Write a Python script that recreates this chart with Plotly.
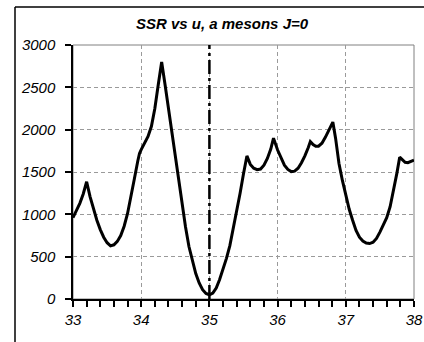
import plotly.graph_objects as go

# SSR scan over u for a mesons, J=0
u = [33.0, 33.05, 33.1, 33.15, 33.2,
     33.25, 33.3, 33.35, 33.4, 33.45, 33.5, 33.55, 33.6, 33.65, 33.7, 33.75,
     33.8, 33.85, 33.9, 33.95, 33.975,
     34.0, 34.05, 34.1, 34.15, 34.2, 34.25, 34.3,
     34.35, 34.4, 34.45, 34.5, 34.55, 34.6, 34.65, 34.7, 34.75, 34.8, 34.85,
     34.9, 34.95, 35.0,
     35.05, 35.1, 35.15, 35.2, 35.25, 35.3, 35.35, 35.4, 35.45, 35.5, 35.55,
     35.6, 35.65, 35.7, 35.75, 35.8, 35.85, 35.9, 35.94,
     36.0, 36.05, 36.1, 36.15, 36.2, 36.25, 36.3, 36.35, 36.4, 36.45, 36.48,
     36.52, 36.56, 36.6, 36.65, 36.7, 36.75, 36.81,
     36.85, 36.9, 36.95, 37.0, 37.05, 37.1, 37.15, 37.2, 37.25, 37.3, 37.35,
     37.4, 37.45, 37.5, 37.55, 37.6, 37.65, 37.7, 37.75, 37.79,
     37.83, 37.87, 37.91, 37.95, 38.0]
ssr = [960, 1040, 1130, 1240, 1385,
       1210, 1060, 930, 820, 730, 665, 628, 640, 680, 750, 860,
       1010, 1200, 1420, 1630, 1720,
       1765, 1835, 1920, 2040, 2250, 2530, 2800,
       2530, 2250, 1960, 1660, 1370, 1100, 850, 620, 440, 300, 190,
       110, 65, 50,
       70, 130, 230, 350, 480, 630, 830, 1030, 1250, 1480, 1690,
       1590, 1545, 1528, 1535, 1580, 1660, 1770, 1900,
       1760, 1660, 1580, 1530, 1505, 1510, 1545, 1610, 1690, 1790, 1860,
       1825, 1805, 1805, 1840, 1910, 1990, 2090,
       1900, 1600, 1400, 1220, 1060, 930, 810, 730, 685, 662, 655,
       670, 715, 790, 880, 960, 1090, 1270, 1490, 1675,
       1640, 1615, 1610, 1620, 1640]

best_u = 35.0
u_range = [33, 38]
ssr_range = [0, 3000]

grid_col = "#9a9a9a"
tick_font = dict(family="Liberation Sans", size=15, color="black",
                 style="italic")

fig = go.Figure()

fig.add_trace(go.Scatter(
    x=u, y=ssr, mode="lines",
    line=dict(color="black", width=3),
    hoverinfo="skip", showlegend=False,
))

fig.add_trace(go.Scatter(
    x=[best_u, best_u], y=ssr_range, mode="lines",
    line=dict(color="black", width=2.5, dash="14px,4px,3px,4px"),
    hoverinfo="skip", showlegend=False,
))

fig.update_layout(
    width=424, height=342, autosize=False,
    margin=dict(l=73, r=10, t=45, b=43, autoexpand=False),
    paper_bgcolor="white", plot_bgcolor="white",
    title=dict(
        text="<b><i>SSR vs u, a mesons J=0</i></b>",
        xref="paper", x=(222 - 73) / 341, xanchor="center",
        yref="container", y=1 - 24 / 342, yanchor="middle",
        font=dict(family="Liberation Sans", size=15, color="black"),
    ),
    xaxis=dict(
        range=u_range, dtick=1, tick0=33,
        tickfont=tick_font, ticks="outside", ticklen=6, tickwidth=1.5,
        tickcolor="black", showline=True, linecolor="black", linewidth=1.5,
        showgrid=True, gridcolor=grid_col, gridwidth=1, griddash="4px,3px",
        minor=dict(dtick=0.2, ticks="outside", ticklen=6,
                   tickwidth=1.5, tickcolor="black", showgrid=False),
        zeroline=False,
    ),
    yaxis=dict(
        range=ssr_range, dtick=500, tick0=0,
        tickfont=tick_font, ticks="outside", ticklen=6, tickwidth=1.5,
        tickcolor="black", showline=True, linecolor="black", linewidth=1.5,
        showgrid=True, gridcolor=grid_col, gridwidth=1, griddash="4px,3px",
        zeroline=False, ticklabelstandoff=7,
    ),
    shapes=[
        # plot-area border (top and right edges stay grey)
        dict(type="rect", xref="paper", yref="paper", x0=0, x1=1, y0=0, y1=1,
             line=dict(color="#808080", width=1), layer="below"),
        # outer chart frame
        dict(type="line", xref="paper", yref="paper",
             x0=-58 / 341, x1=-58 / 341, y0=292 / 254, y1=-43 / 254,
             line=dict(color="black", width=1.5)),
        dict(type="line", xref="paper", yref="paper",
             x0=-58 / 341, x1=351 / 341, y0=292 / 254, y1=292 / 254,
             line=dict(color="black", width=1.5)),
    ],
)

fig.write_html("out.html")
